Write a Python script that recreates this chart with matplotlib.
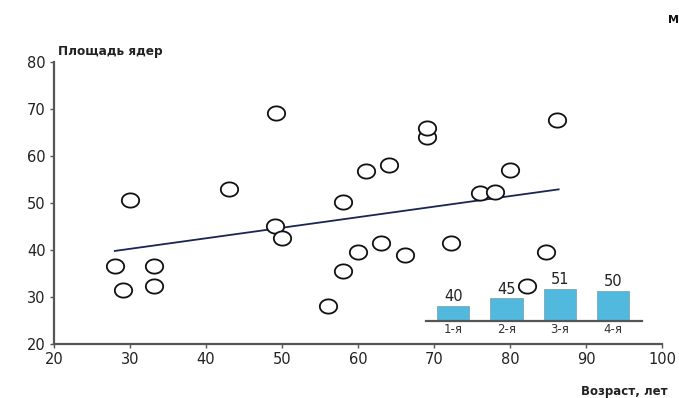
import numpy as np
import matplotlib
matplotlib.use("Agg")
import matplotlib.pyplot as plt
from matplotlib.path import Path

plt.rcParams['font.family'] = ['DejaVu Sans']

age = [28.0, 29.1, 30.0, 33.1, 33.1, 43.0, 49.1, 49.2, 50.0, 56.0, 58.0, 58.0, 60.0,
       61.0, 63.0, 64.1, 66.2, 69.1, 69.1, 72.3, 76.1, 78.0, 80.0, 82.3, 84.8, 86.2]
area = [36.7, 31.5, 50.6, 36.6, 32.3, 53.0, 45.1, 69.2, 42.5, 28.1, 50.2, 35.5, 39.6,
        56.8, 41.4, 58.1, 38.9, 64.1, 65.9, 41.4, 52.1, 52.4, 57.0, 32.3, 39.6, 67.7]
trend_x = [28.0, 86.4]
trend_y = [39.8, 52.9]

groups = ['1-я', '2-я', '3-я', '4-я']
group_vals = [40, 45, 51, 50]

xticks = [20, 30, 40, 50, 60, 70, 80, 90, 100]
yticks = [20, 30, 40, 50, 60, 70, 80]

fig = plt.figure(figsize=(6.79, 3.98), dpi=100)
fig.patch.set_facecolor('white')

ax = fig.add_axes([54/679, 54/398, 608/679, 282/398])
ax.set_xlim(20, 100)
ax.set_ylim(20, 80)

t = np.linspace(0, 2*np.pi, 60)
ell = Path(np.column_stack([np.cos(t)*1.0, np.sin(t)*0.82]))

ax.plot(trend_x, trend_y, color='#1c2454', lw=1.3, zorder=2)
ax.plot(age, area, linestyle='none', marker=ell, markersize=12.5,
        markerfacecolor='white', markeredgecolor='#111111', markeredgewidth=1.3, zorder=3)

for s in ['top', 'right']:
    ax.spines[s].set_visible(False)
for s in ['left', 'bottom']:
    ax.spines[s].set_color('#555555')
    ax.spines[s].set_linewidth(1.6)
ax.set_xticks(xticks)
ax.set_yticks(yticks)
ax.tick_params(direction='out', length=3, width=1, color='#555555',
               labelsize=10.5, labelcolor='#222222', pad=3)

fig.text(58/679, 1 - 51/398, 'Площадь ядер', fontsize=8.7, fontweight='bold',
         color='#222222', va='center', ha='left')
fig.text(668/679, 1 - 391/398, 'Возраст, лет', fontsize=8.5, fontweight='bold',
         color='#222222', va='center', ha='right')
fig.text(668/679, 1 - 20/398, 'М', fontsize=8, fontweight='bold',
         color='#111111', va='center', ha='left')

# inset bars
ins = fig.add_axes([426/679, (398-320.7)/398, 216/679, 51/398])
ins.patch.set_alpha(0)
ins.set_xlim(-0.51, 3.54)
ins.set_ylim(30, 30 + 51/1.51)
xs = np.arange(len(groups))
ins.bar(xs, np.array(group_vals) - 30, bottom=30, width=0.61,
        color='#52b9de', edgecolor='#7fa7b5', linewidth=0.6, zorder=2)
for x, v in zip(xs, group_vals):
    ins.text(x, v + 1.0, str(v), ha='center', va='bottom', fontsize=10.5, color='#222222')
for s in ['top', 'right', 'left']:
    ins.spines[s].set_visible(False)
ins.spines['bottom'].set_color('#555555')
ins.spines['bottom'].set_linewidth(1.6)
ins.set_yticks([])
ins.set_xticks(xs)
ins.set_xticklabels(groups)
ins.tick_params(axis='x', length=0, labelsize=8.5, labelcolor='#333333', pad=2)

fig.savefig('out.png', dpi=100, facecolor='white')
